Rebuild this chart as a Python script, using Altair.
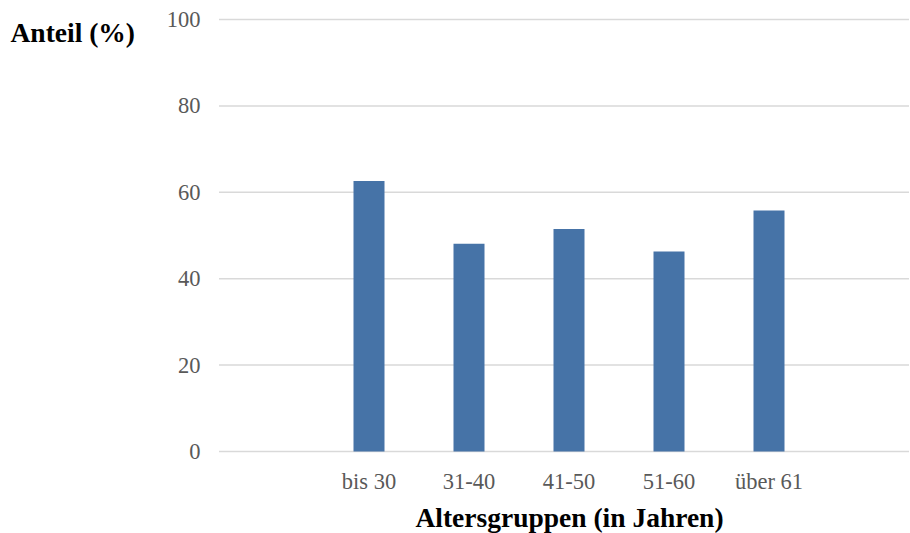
import altair as alt
import pandas as pd

# Share by age group (%)
groups = ["bis 30", "31-40", "41-50", "51-60", "über 61"]
shares = [62.6, 48.1, 51.5, 46.3, 55.8]
y_ticks = [0, 20, 40, 60, 80, 100]

df = pd.DataFrame({"Altersgruppe": groups, "Anteil": shares})
grid_df = pd.DataFrame({"Anteil": y_ticks})

FONT = "Liberation Serif"
GREY = "#595959"
W, H = 690, 432

y_scale = alt.Scale(domain=[0, 100], nice=False)
y_axis = alt.Axis(
    values=y_ticks,
    title="Anteil (%)",
    titleAngle=0,
    titleAlign="left",
    titleBaseline="middle",
    titleX=-209,
    titleY=14,
    titleFont=FONT,
    titleFontSize=27.5,
    titleFontWeight="bold",
    titleColor="#000000",
    labelFont=FONT,
    labelFontSize=22.5,
    labelColor=GREY,
    labelPadding=19,
    domain=False,
    ticks=False,
    grid=False,
)

# Horizontal gridlines across the full plot width
grid = alt.Chart(grid_df).mark_rule(color="#D9D9D9", strokeWidth=1.5).encode(
    y=alt.Y("Anteil:Q", scale=y_scale, axis=y_axis),
    x=alt.value(0),
    x2=alt.value(W),
)

bars = alt.Chart(df).mark_bar(color="#4673A7").encode(
    x=alt.X(
        "Altersgruppe:N",
        sort=groups,
        scale=alt.Scale(paddingInner=0.69, paddingOuter=0, range=[134.5, 565.5]),
        axis=alt.Axis(
            title="Altersgruppen (in Jahren)",
            labelAngle=0,
            labelFont=FONT,
            labelFontSize=22.5,
            labelColor=GREY,
            labelPadding=19,
            domain=False,
            ticks=False,
            grid=False,
            titleFont=FONT,
            titleFontSize=27.5,
            titleFontWeight="bold",
            titleColor="#000000",
            titlePadding=11,
        ),
    ),
    y=alt.Y("Anteil:Q", scale=y_scale, axis=y_axis),
)

chart = alt.layer(grid, bars).properties(
    width=W,
    height=H,
    autosize=alt.AutoSizeParams(type="none"),
    padding={"left": 219, "top": 19.5, "right": 1, "bottom": 81},
    background="white",
).configure_view(stroke=None)

chart.save("out.html", embed_options={"renderer": "svg", "actions": False})
